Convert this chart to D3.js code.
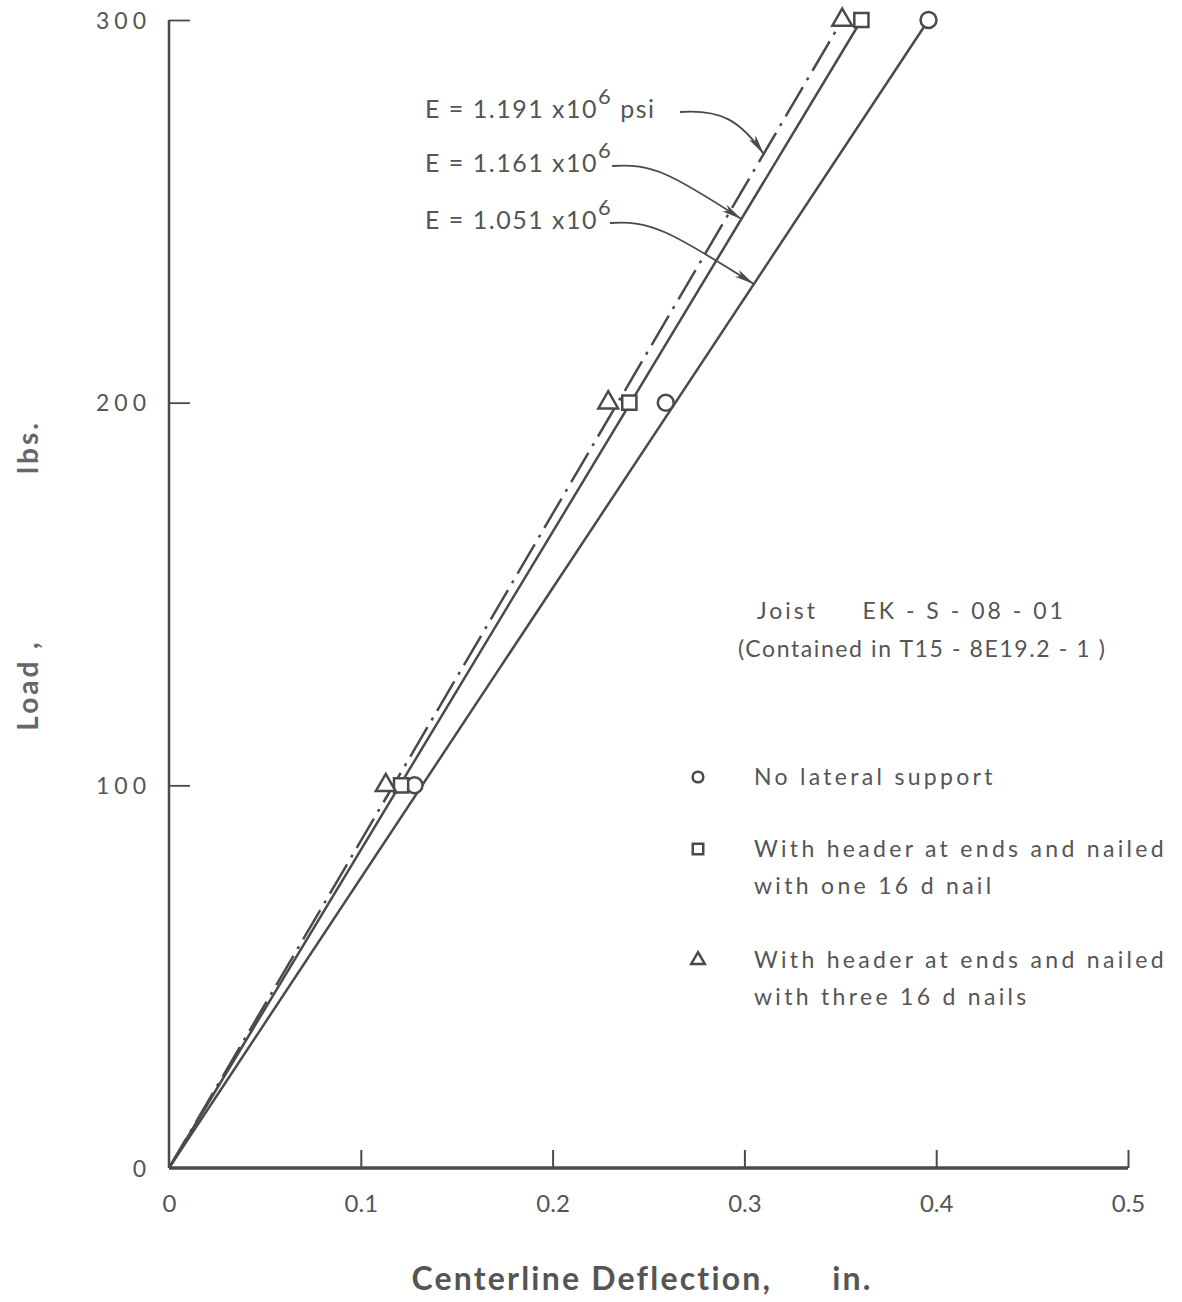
<!DOCTYPE html>
<html>
<head>
<meta charset="utf-8">
<script src="https://cdn.jsdelivr.net/npm/d3@7"></script>
<style>
  html, body { margin: 0; padding: 0; background: #fff; }
  svg { display: block; }
  text { font-family: Lato, "DejaVu Sans", sans-serif; }
</style>
</head>
<body>
<svg id="chart" width="1182" height="1302"></svg>
<script>
// ---- data ----
const loads = [100, 200, 300];
const deflNoSupport = [0.128, 0.259, 0.396];   // circles
const deflOneNail = [0.121, 0.240, 0.361];     // squares
const deflThreeNails = [0.113, 0.229, 0.351];  // triangles

// fitted lines (load, deflection) from origin
const fitLoads = [0, 300];
const fitNoSupport = [0, 0.396];
const fitOneNail = [0, 0.361];
const fitThreeNails = [0, 0.351];

const xTicks = [0, 0.1, 0.2, 0.3, 0.4, 0.5];
const xTickLabels = ["0", "0.1", "0.2", "0.3", "0.4", "0.5"];
const yTicks = [0, 100, 200, 300];
const yTickLabels = ["0", "100", "200", "300"];

const eLabels = ["1.191", "1.161", "1.051"];
const legendLabels = [
  ["No lateral support"],
  ["With header at ends and nailed", "with one 16 d nail"],
  ["With header at ends and nailed", "with three 16 d nails"]
];

// ---- layout ----
const svg = d3.select("#chart");
const x = d3.scaleLinear().domain([0, 0.5]).range([169, 1128]);
const y = d3.scaleLinear().domain([0, 300]).range([1168, 20]);
const ink = "#4a4a4a";
const textInk = "#555";

// axes
const xAxis = svg.append("g").attr("transform", `translate(0,${y(0)})`)
  .call(d3.axisBottom(x).tickValues(xTicks).tickSize(-18).tickPadding(27)
    .tickFormat((d, i) => xTickLabels[i]));
xAxis.select(".domain").attr("stroke", ink).attr("stroke-width", 3.5).attr("d", `M${x(0)},0H${x(0.5)}`);
xAxis.selectAll(".tick line").attr("stroke", ink).attr("stroke-width", 2);
xAxis.selectAll(".tick text").attr("fill", textInk).attr("font-size", 24).attr("dy", "0.71em")
  .attr("font-family", "Lato, sans-serif");
xAxis.selectAll(".tick").filter(d => d === 0).select("line").remove();

const yAxis = svg.append("g").attr("transform", `translate(${x(0)},0)`)
  .call(d3.axisLeft(y).tickValues(yTicks).tickSize(-21).tickPadding(18)
    .tickFormat((d, i) => yTickLabels[i]));
yAxis.select(".domain").attr("stroke", ink).attr("stroke-width", 2.5).attr("d", `M0,${y(0)}V${y(300)}`);
yAxis.selectAll(".tick line").attr("stroke", ink).attr("stroke-width", 1.8);
yAxis.selectAll(".tick text").attr("fill", textInk).attr("font-size", 23).attr("letter-spacing", 5)
  .attr("dy", "0.35em");
yAxis.selectAll(".tick").filter(d => d === 0).select("line").remove();

// axis titles
svg.append("text").attr("x", 642).attr("y", 1290).attr("text-anchor", "middle")
  .attr("font-size", 32).attr("font-weight", "bold").attr("fill", "#555").attr("letter-spacing", 2.2)
  .style("white-space", "pre").text("Centerline Deflection,      in.");
svg.append("text").attr("transform", "translate(38,685) rotate(-90)").attr("text-anchor", "middle")
  .attr("font-size", 28).attr("font-weight", "bold").attr("fill", "#666").attr("letter-spacing", 3)
  .style("white-space", "pre").text("Load ,");
svg.append("text").attr("transform", "translate(38,447) rotate(-90)").attr("text-anchor", "middle")
  .attr("font-size", 28).attr("font-weight", "bold").attr("fill", "#666").attr("letter-spacing", 3)
  .text("lbs.");

// fitted lines
const lineGen = d3.line().x(d => x(d[0])).y(d => y(d[1]));
function fit(defl) { return fitLoads.map((l, i) => [defl[i], l]); }
svg.append("path").attr("d", lineGen(fit(fitNoSupport))).attr("fill", "none")
  .attr("stroke", ink).attr("stroke-width", 2.5);
svg.append("path").attr("d", lineGen(fit(fitOneNail))).attr("fill", "none")
  .attr("stroke", ink).attr("stroke-width", 2.5);
svg.append("path").attr("d", lineGen(fit(fitThreeNails))).attr("fill", "none")
  .attr("stroke", ink).attr("stroke-width", 2.5).attr("stroke-dasharray", "34,8,3,8");

// markers
const symCircle = d3.symbol().type(d3.symbolCircle);
const symSquare = d3.symbol().type(d3.symbolSquare);
const symTri = d3.symbol().type(d3.symbolTriangle);
function drawMarkers(defl, sym, size) {
  svg.append("g").selectAll("path").data(loads).join("path")
    .attr("transform", (d, i) => `translate(${x(defl[i])},${y(d)})`)
    .attr("d", sym.size(size)())
    .attr("fill", "#fff").attr("stroke", ink).attr("stroke-width", 2.5);
}
drawMarkers(deflNoSupport, symCircle, 200);
drawMarkers(deflOneNail, symSquare, 200);
drawMarkers(deflThreeNails, symTri, 170);

// annotations
svg.append("defs").append("marker").attr("id", "arr").attr("viewBox", "0 0 20 8")
  .attr("refX", 20).attr("refY", 4).attr("markerWidth", 20).attr("markerHeight", 8)
  .attr("markerUnits", "userSpaceOnUse").attr("orient", "auto")
  .append("path").attr("d", "M0,0L20,4L0,8L5,4Z").attr("fill", ink);

const annY = [118, 172, 229];
const annTargets = [[fitThreeNails, 265], [fitOneNail, 248], [fitNoSupport, 231]];
const annStartX = [680, 612, 610];
annY.forEach((yy, i) => {
  const t = svg.append("text").attr("x", 425).attr("y", yy).attr("fill", "#555")
    .attr("font-size", 25).attr("letter-spacing", 1.5).style("white-space", "pre");
  t.append("tspan").text(`E = ${eLabels[i]} x10`);
  t.append("tspan").attr("dy", -14).attr("font-size", 22).text("6");
  if (i === 0) t.append("tspan").attr("dy", 14).text(" psi");
  const [fitArr, L] = annTargets[i];
  const tx = x(fitArr[1] * L / 300), ty = y(L);
  const sx = annStartX[i], sy = yy - 6;
  const p = d3.path();
  p.moveTo(sx, sy);
  p.bezierCurveTo(sx + 40, sy - 3, sx + 60, sy + 8, tx, ty);
  svg.append("path").attr("d", p.toString()).attr("fill", "none").attr("stroke", ink)
    .attr("stroke-width", 1.8).attr("marker-end", "url(#arr)");
});

// legend
svg.append("text").attr("x", 757).attr("y", 619).attr("fill", "#555").attr("font-size", 23)
  .attr("letter-spacing", 3).style("white-space", "pre").text("Joist     EK - S - 08 - 01");
svg.append("text").attr("x", 738).attr("y", 657).attr("fill", "#555").attr("font-size", 23)
  .attr("letter-spacing", 1.6).text("(Contained in T15 - 8E19.2 - 1 )");

const legY = [777, 849, 960];
const legSyms = [[symCircle, 90], [symSquare, 110], [symTri, 80]];
legY.forEach((ly, i) => {
  svg.append("path").attr("transform", `translate(698,${ly})`)
    .attr("d", legSyms[i][0].size(legSyms[i][1])()).attr("fill", "#fff")
    .attr("stroke", ink).attr("stroke-width", 2.5);
  legendLabels[i].forEach((line, j) => {
    svg.append("text").attr("x", 754).attr("y", ly + 8 + j * 37).attr("fill", "#555")
      .attr("font-size", 23).attr("letter-spacing", 3.3).text(line);
  });
});
</script>
</body>
</html>
